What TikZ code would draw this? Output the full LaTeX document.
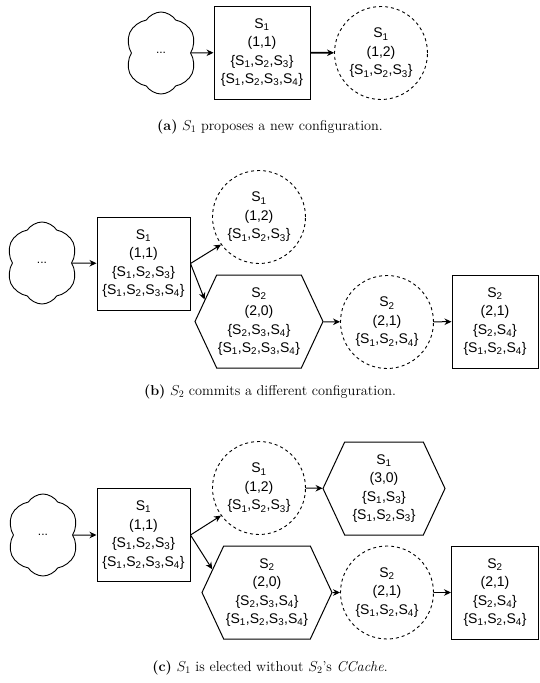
\documentclass[tikz,border=0pt]{standalone}
\usepackage{fontspec}
\setsansfont{Liberation Sans}
\usepackage{amsmath}
\usepackage{tikz}
\usetikzlibrary{shapes.geometric,shapes.symbols,arrows.meta}

\newcommand{\srv}[1]{S\textsubscript{#1}}

\tikzset{
  cfg/.style={draw, line width=1pt, align=center, inner sep=0pt,
    font=\sffamily\fontsize{14}{18.5}\selectfont},
  committed/.style={cfg, rectangle, minimum height=93pt},
  tentative/.style={cfg, circle, line width=0.9pt, dash pattern=on 3pt off 3pt, minimum size=93pt},
  joint/.style={cfg, signal, signal to=east and west, signal pointer angle=130, minimum height=93pt},
  history/.style={draw, line width=0.9pt, cloud, cloud puffs=6, cloud puff arc=115, cloud ignores aspect,
    minimum width=72pt, minimum height=82pt, font=\sffamily\fontsize{12}{14}\selectfont},
  caption/.style={font=\fontsize{14.3}{17}\selectfont}
}

\begin{document}
\begin{tikzpicture}[x=1pt,y=-1pt,>={Stealth[length=7pt,width=6.5pt]},line width=1pt]
			\useasboundingbox (0,0) rectangle (539,683);
			% (a)
			\node[history] (h_a) at (161,53) {...};
			\node[committed, minimum width=96pt] (c_a) at (262,52.5) {\srv1\\(1,1)\\\{\srv1,\srv2,\srv3\}\\\{\srv1,\srv2,\srv3,\srv4\}};
			\node[tentative] (t_a) at (381,53) {\srv1\\(1,2)\\\{\srv1,\srv2,\srv3\}};
			\node[caption] (cap_a) at (270,127) {\textbf{(a)} $S_1$ proposes a new configuration.};
			\path[->] 
			(h_a) edge (c_a)
			(c_a) edge [line width=1.6pt] (t_a);
			
			% (b)
			\node[history] (h_b) at (42,263) {...};
			\node[committed, minimum width=93pt] (c_b) at (143.5,263.5) {\srv1\\(1,1)\\\{\srv1,\srv2,\srv3\}\\\{\srv1,\srv2,\srv3,\srv4\}};
			\node[tentative] (t_b) at (259,217) {\srv1\\(1,2)\\\{\srv1,\srv2,\srv3\}};
			\node[joint, minimum width=128pt] (j_b) at (259,321.5) {\srv2\\(2,0)\\\{\srv2,\srv3,\srv4\}\\\{\srv1,\srv2,\srv3,\srv4\}};
			\node[tentative] (u_b) at (387,322) {\srv2\\(2,1)\\\{\srv1,\srv2,\srv4\}};
			\node[committed, minimum width=86pt] (d_b) at (495,321.5) {\srv2\\(2,1)\\\{\srv2,\srv4\}\\\{\srv1,\srv2,\srv4\}};
			\node[caption] (cap_b) at (270,392) {\textbf{(b)} $S_2$ commits a different configuration.};
			\path[->] 
			(h_b) edge (c_b)
			(c_b.east) edge (t_b.216)
			(c_b.east) edge (j_b.158)
			(j_b) edge (u_b)
			(u_b) edge (d_b);
			
			% (c)
			\node[history] (h_c) at (43,535) {...};
			\node[committed, minimum width=93pt] (c_c) at (143.5,535) {\srv1\\(1,1)\\\{\srv1,\srv2,\srv3\}\\\{\srv1,\srv2,\srv3,\srv4\}};
			\node[tentative] (t_c) at (259,488) {\srv1\\(1,2)\\\{\srv1,\srv2,\srv3\}};
			\node[joint, minimum width=122pt] (j_c) at (384,488.5) {\srv1\\(3,0)\\\{\srv1,\srv3\}\\\{\srv1,\srv2,\srv3\}};
			\node[joint, minimum width=130pt] (k_c) at (267,592.5) {\srv2\\(2,0)\\\{\srv2,\srv3,\srv4\}\\\{\srv1,\srv2,\srv3,\srv4\}};
			\node[tentative] (u_c) at (387,592.5) {\srv2\\(2,1)\\\{\srv1,\srv2,\srv4\}};
			\node[committed, minimum width=87pt] (d_c) at (495,592.5) {\srv2\\(2,1)\\\{\srv2,\srv4\}\\\{\srv1,\srv2,\srv4\}};
			\node[caption] (cap_c) at (270,668) {\textbf{(c)} $S_1$ is elected without $S_2$'s \textit{CCache}.};
			\path[->] 
			(h_c) edge (c_c)
			(c_c.east) edge (t_c.216)
			(c_c.east) edge (k_c.157)
			(t_c) edge (j_c)
			(k_c) edge (u_c)
			(u_c) edge (d_c);
			
		\end{tikzpicture}
\end{document}
